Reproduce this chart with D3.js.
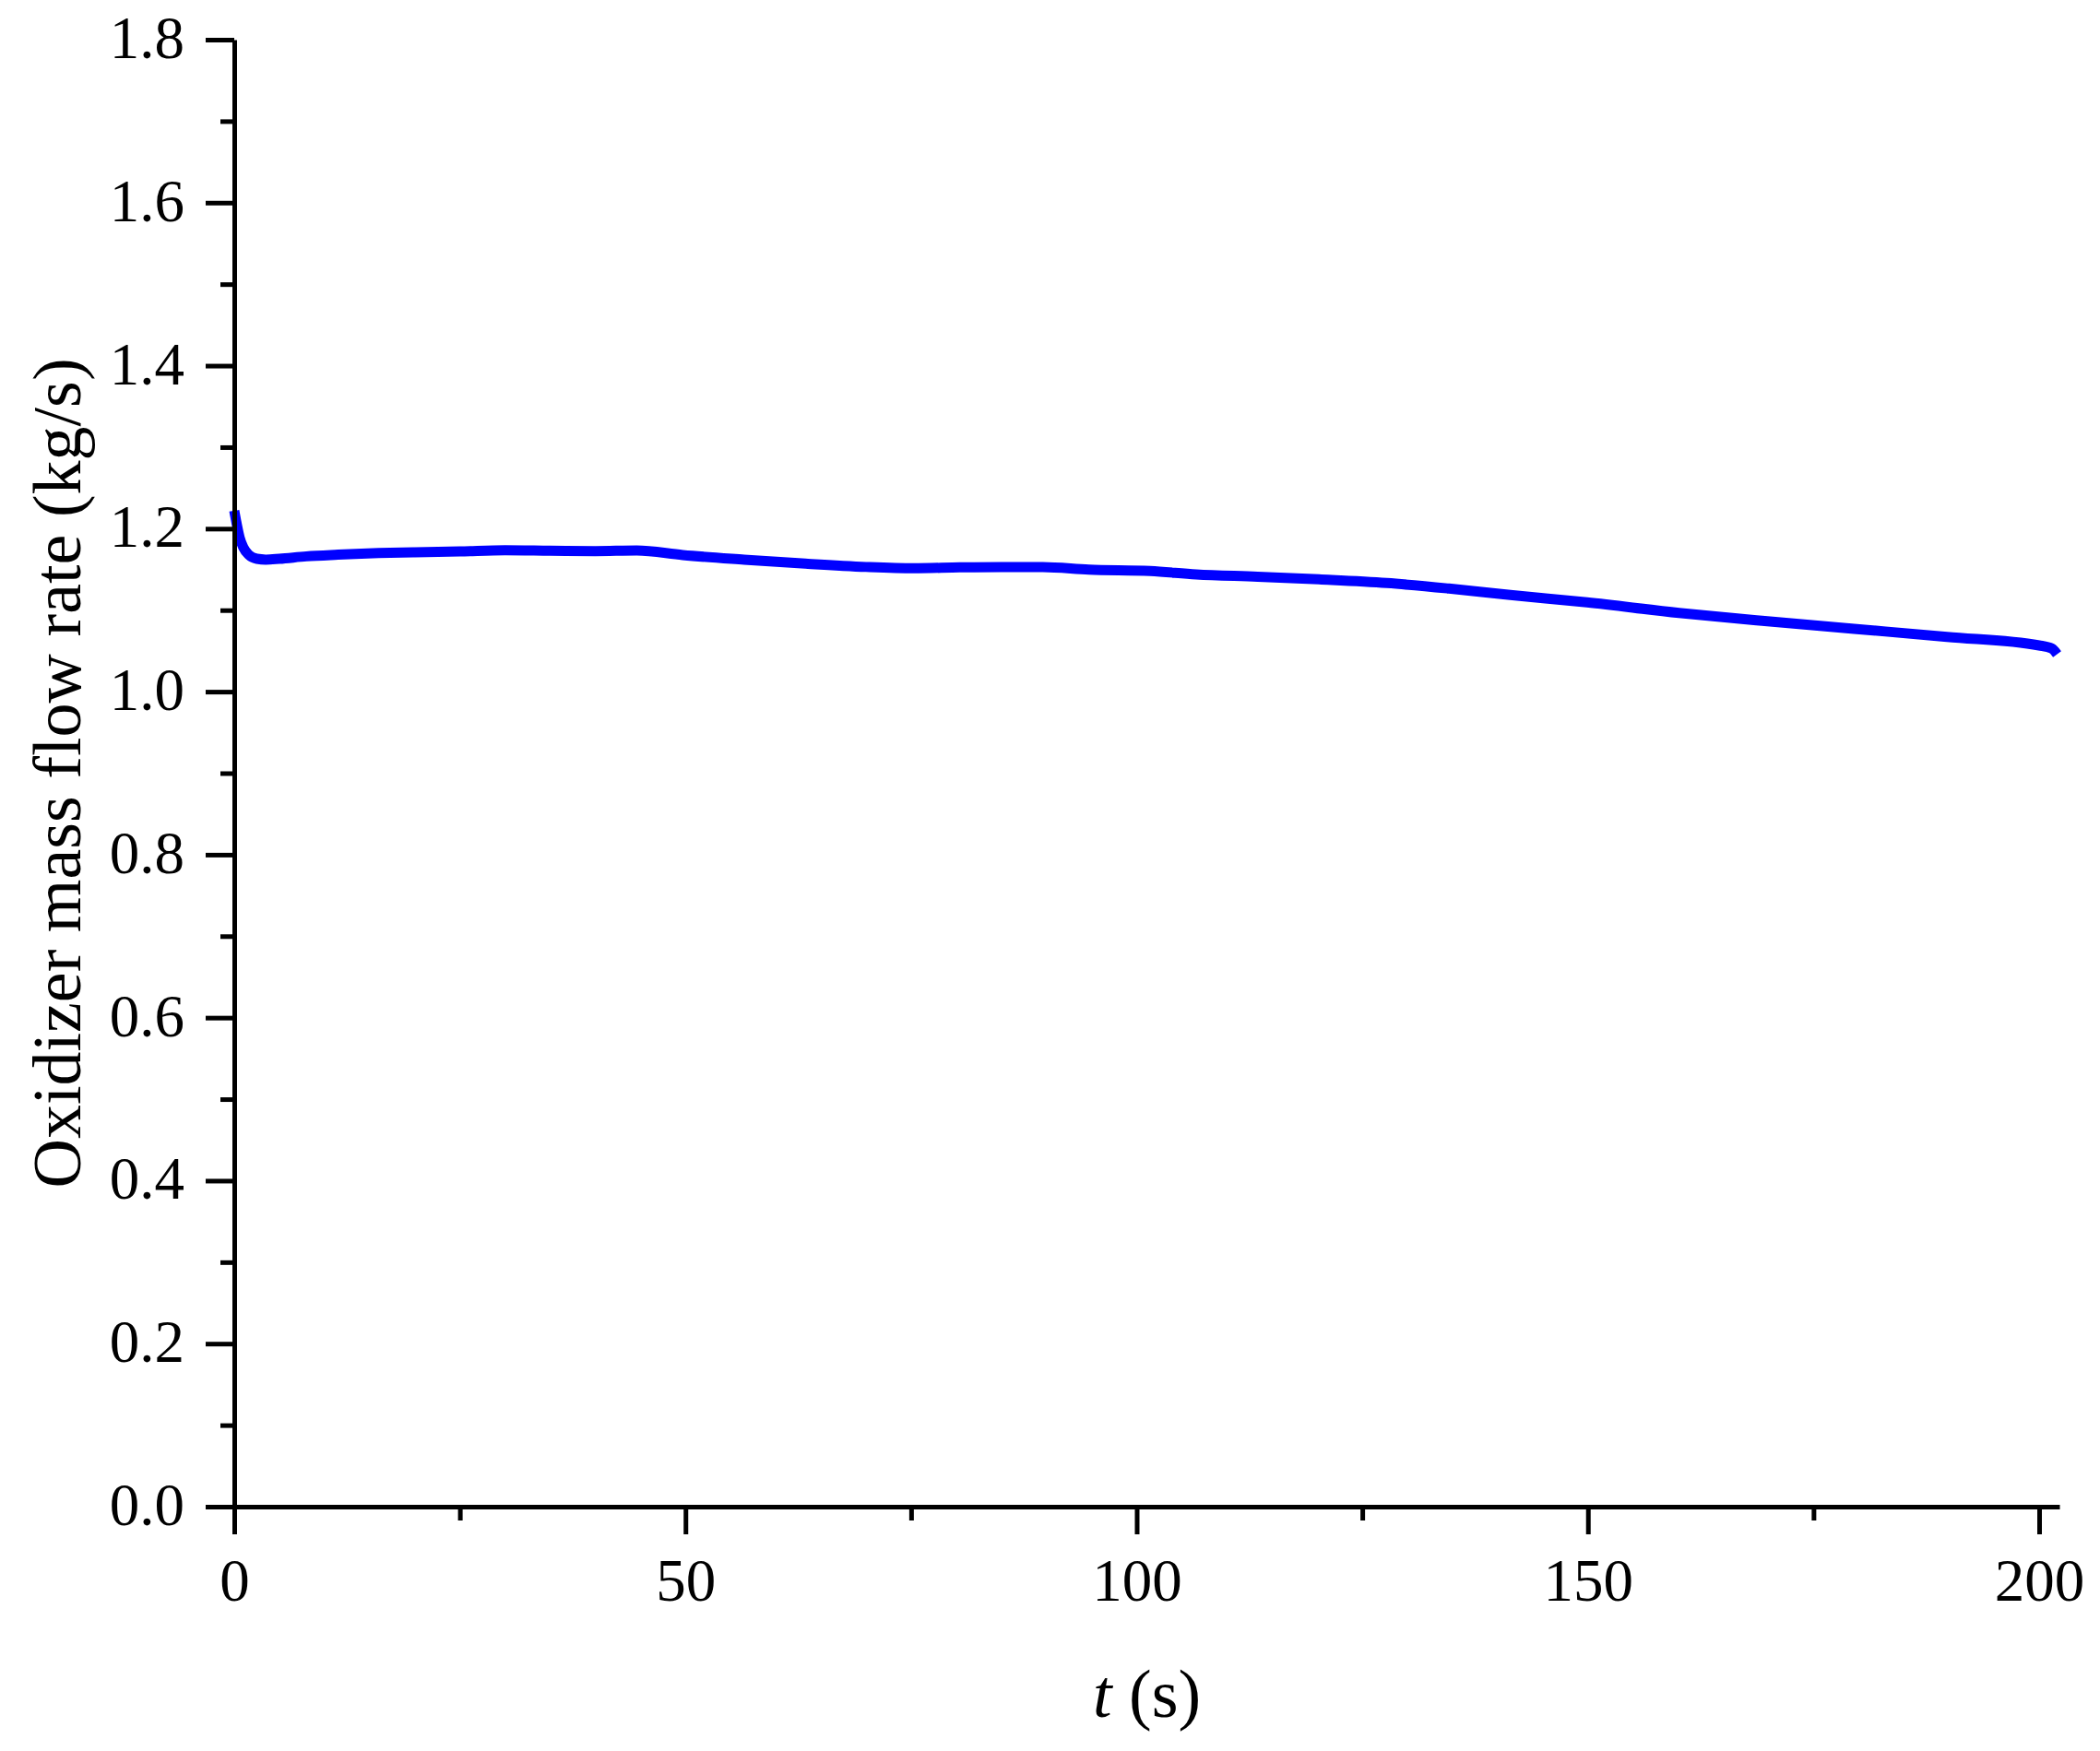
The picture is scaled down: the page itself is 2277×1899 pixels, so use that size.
<!DOCTYPE html>
<html>
<head>
<meta charset="utf-8">
<script src="https://cdn.jsdelivr.net/npm/d3@7"></script>
<style>
  html, body { margin: 0; padding: 0; background: #fff; }
  svg { display: block; }
  text { font-family: "Liberation Serif", "Times New Roman", serif; fill: #000; }
</style>
</head>
<body>
<script>
// ---- data ----
const timeS = [0, 0.25, 0.6, 1.0, 1.6, 2.5, 3.5, 5, 8, 11.5, 16, 20, 25, 30, 35, 40, 44.6, 49.7, 56.5, 63.3, 70, 75.3, 80.4, 85, 89.6, 94.7, 101.5, 106.6, 113.4, 120.2, 127.7, 134.6, 141.4, 149.9, 160.1, 169.3, 179.5, 189.8, 200, 201.4, 202.0];
const massFlow = [1.222, 1.207, 1.189, 1.177, 1.168, 1.163, 1.162, 1.163, 1.166, 1.168, 1.170, 1.171, 1.172, 1.1736, 1.173, 1.1725, 1.1732, 1.1676, 1.162, 1.157, 1.153, 1.1514, 1.1525, 1.153, 1.153, 1.1498, 1.148, 1.1438, 1.1411, 1.1378, 1.1333, 1.1265, 1.1186, 1.1095, 1.0966, 1.0869, 1.0771, 1.0672, 1.0567, 1.053, 1.046];
const xTicks = [0, 50, 100, 150, 200];
const xMinorTicks = [25, 75, 125, 175];
const yTicks = [0, 0.2, 0.4, 0.6, 0.8, 1.0, 1.2, 1.4, 1.6, 1.8];
const yMinorTicks = [0.1, 0.3, 0.5, 0.7, 0.9, 1.1, 1.3, 1.5, 1.7];
const xDomain = [0, 202.25];
const yDomain = [0, 1.8];
const xTitleItalic = "t";
const xTitleRest = " (s)";
const yTitle = "Oxidizer mass flow rate (kg/s)";

// ---- layout ----
const W = 2277, H = 1899;
const mLeft = 254, mRight = 2233, mTop = 43, mBottom = 1634;

const svg = d3.select("body").append("svg").attr("width", W).attr("height", H);

const x = d3.scaleLinear().domain(xDomain).range([mLeft, mRight]);
const y = d3.scaleLinear().domain(yDomain).range([mBottom, mTop]);

const data = timeS.map((t, i) => ({ t, v: massFlow[i] }));

// line
const line = d3.line().x(d => x(d.t)).y(d => y(d.v)).curve(d3.curveMonotoneX);
svg.append("path")
  .datum(data)
  .attr("fill", "none")
  .attr("stroke", "#0000ff")
  .attr("stroke-width", 11)
  .attr("stroke-linejoin", "round")
  .attr("stroke-linecap", "butt")
  .attr("d", line);

// minor ticks
const gxm = svg.append("g").attr("transform", `translate(0,${mBottom})`)
  .call(d3.axisBottom(x).tickValues(xMinorTicks).tickSize(15).tickSizeOuter(0).tickFormat(""));
const gym = svg.append("g").attr("transform", `translate(${mLeft},0)`)
  .call(d3.axisLeft(y).tickValues(yMinorTicks).tickSize(15).tickSizeOuter(0).tickFormat(""));
[gxm, gym].forEach(g => { g.select(".domain").remove(); g.selectAll("line").attr("stroke", "#000").attr("stroke-width", 5); });

// major axes
const gx = svg.append("g").attr("transform", `translate(0,${mBottom})`)
  .call(d3.axisBottom(x).tickValues(xTicks).tickSize(30).tickSizeOuter(0).tickPadding(26).tickFormat(d3.format("d")));
const gy = svg.append("g").attr("transform", `translate(${mLeft},0)`)
  .call(d3.axisLeft(y).tickValues(yTicks).tickSize(31).tickSizeOuter(0).tickPadding(23).tickFormat(d3.format(".1f")));
[gx, gy].forEach(g => {
  g.select(".domain").attr("stroke", "#000").attr("stroke-width", 5);
  g.selectAll(".tick line").attr("stroke", "#000").attr("stroke-width", 5);
  g.selectAll(".tick text")
    .style("font-family", "'Liberation Serif', 'Times New Roman', serif")
    .style("font-size", "65px")
    .attr("fill", "#000");
});
gy.selectAll(".tick text").attr("dy", "0.3em");

// x title
const xt = svg.append("text")
  .attr("x", (mLeft + mRight) / 2)
  .attr("y", 1862)
  .attr("text-anchor", "middle")
  .style("font-size", "74px");
xt.append("tspan").style("font-style", "italic").text(xTitleItalic);
xt.append("tspan").text(xTitleRest);

// y title
svg.append("text")
  .attr("transform", `translate(87,${(mTop + mBottom) / 2}) rotate(-90)`)
  .attr("text-anchor", "middle")
  .style("font-size", "74px")
  .text(yTitle);
</script>
</body>
</html>
